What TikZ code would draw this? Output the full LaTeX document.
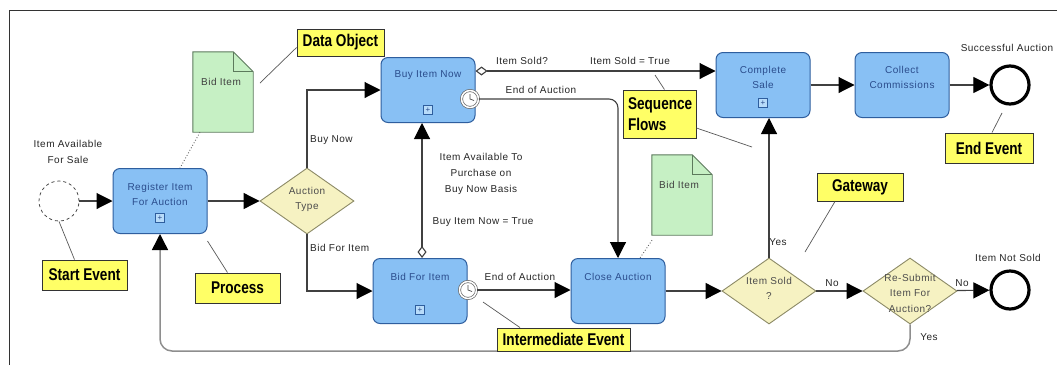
\documentclass[tikz,border=0pt]{standalone}
\usepackage{fontspec}
\setmainfont{Liberation Sans}
\newfontfamily\lblfont{Liberation Sans}[LetterSpace=5]
\newfontfamily\callfont{Liberation Sans}[FakeStretch=0.8]
\usetikzlibrary{shapes.geometric,arrows.meta,calc}

\definecolor{taskfill}{HTML}{88C0F4}
\definecolor{taskline}{HTML}{2E5E9E}
\definecolor{tasktext}{HTML}{2A4C8C}
\definecolor{markfill}{HTML}{B8DCFA}
\definecolor{gatefill}{HTML}{F6F2C2}
\definecolor{gateline}{HTML}{8C8A66}
\definecolor{docfill}{HTML}{C6F0C4}
\definecolor{docline}{HTML}{5C7A5C}
\definecolor{callfill}{HTML}{FFFF66}
\definecolor{flowline}{HTML}{404040}
\definecolor{loopline}{HTML}{8E8E8E}

% data object with folded corner, drawn around an invisible node
\newcommand\docobject[1]{%
  \draw[docline, fill=docfill, line width=0.9pt]
    (#1.north west) -- ([xshift=-20pt]#1.north east) -- ([yshift=-20pt]#1.north east)
    -- (#1.south east) -- (#1.south west) -- cycle;
  \draw[docline, line width=0.9pt]
    ([xshift=-20pt]#1.north east) -- ([xshift=-20pt,yshift=-20pt]#1.north east)
    -- ([yshift=-20pt]#1.north east);
}
% clock hands of a timer event
\newcommand\clockhands[1]{%
  \draw[black!70, line width=0.7pt] ([yshift=5pt]#1.center) -- (#1.center) -- ([xshift=4pt,yshift=-1.5pt]#1.center);
}

\tikzset{
  task/.style={draw=taskline, fill=taskfill, rounded corners=7pt, line width=1pt,
               minimum width=94pt, minimum height=65pt},
  ttext/.style={text=tasktext, font=\lblfont\fontsize{10}{15}\selectfont, align=center, inner sep=0},
  marker/.style={draw=taskline, fill=markfill, line width=0.7pt, minimum size=9pt, inner sep=0,
                 text=tasktext, font=\fontsize{8}{8}\selectfont},
  gate/.style={diamond, draw=gateline, fill=gatefill, line width=0.9pt, inner sep=0,
               minimum width=94pt, minimum height=66pt},
  gtext/.style={text=black!70, font=\lblfont\fontsize{10}{15}\selectfont, align=center, inner sep=0},
  startev/.style={circle, draw=black!70, dashed, line width=0.8pt, fill=white, minimum size=40pt, inner sep=0},
  endev/.style={circle, draw=black, line width=3.2pt, fill=white, minimum size=38pt, inner sep=0},
  timer/.style={circle, draw=black!60, double=white, double distance=1.5pt, line width=0.7pt,
                fill=white, minimum size=17pt, inner sep=0},
  docnode/.style={minimum width=60pt, minimum height=80pt, inner sep=0},
  dtext/.style={text=black!75, font=\lblfont\fontsize{10}{12}\selectfont, inner sep=0},
  lbl/.style={text=black!85, font=\lblfont\fontsize{10}{16}\selectfont, align=center, inner sep=0},
  flow/.style={draw=flowline, line width=1.1pt, -{Triangle[length=16pt,width=16pt,color=black]}},
  cflow/.style={draw=flowline, line width=1.1pt,
                {Diamond[open,length=12pt,width=9pt,color=flowline]}-{Triangle[length=16pt,width=16pt,color=black]}},
  loopflow/.style={draw=loopline, line width=1.5pt, rounded corners=12pt,
                   -{Triangle[length=16pt,width=16pt,color=black]}},
  assoc/.style={draw=black!60, line width=0.9pt, dotted},
  note/.style={draw=black!80, line width=0.9pt, fill=callfill, inner sep=0,
               font=\callfont\bfseries\fontsize{17}{21}\selectfont},
  noteline/.style={draw=black!65, line width=0.7pt},
}

\begin{document}
\begin{tikzpicture}[x=1pt, y=-1pt]
\useasboundingbox[fill=white] (0,0) rectangle (1057,365);
\draw[black!80, line width=1pt] (9,365) -- (9,10) -- (1057,10);

% activities
\node[task] (reg) at (160,201) {};
\node[task] (buy) at (428,90) {};
\node[task] (bid) at (420,291) {};
\node[task] (close) at (618,291) {};
\node[task] (complete) at (763,85) {};
\node[task] (collect) at (902,85) {};

\node[ttext] (regt) at (160,194) {Register Item\\For Auction};
\node[marker] (regm) at (160,218) {+};
\node[ttext] (buyt) at (428,75) {Buy Item Now};
\node[marker] (buym) at (428,110) {+};
\node[ttext] (bidt) at (420,277) {Bid For Item};
\node[marker] (bidm) at (420,310) {+};
\node[ttext] (closet) at (618,277) {Close Auction};
\node[ttext] (completet) at (763,77) {Complete\\Sale};
\node[marker] (completem) at (763,103) {+};
\node[ttext] (collectt) at (902,77) {Collect\\Commissions};

% gateways
\node[gate] (atype) at (307,201) {};
\node[gtext] (atypet) at (307,199) {Auction\\Type};
\node[gate] (sold) at (769,291) {};
\node[gtext] (soldt) at (769,288) {Item Sold\\?};
\node[gate] (resub) at (910,291) {};
\node[gtext, font=\lblfont\fontsize{10}{15.5}\selectfont] (resubt) at (910,293) {Re-Submit\\Item For\\Auction?};

% events
\node[startev] (start) at (59,201) {};
\node[endev] (endok) at (1010,85) {};
\node[endev] (endno) at (1010,290) {};
\node[timer] (tbuy) at (470,99) {};
\clockhands{tbuy}
\node[timer] (tbid) at (468,290) {};
\clockhands{tbid}

% data objects
\node[docnode] (doc1) at (223,92) {};
\docobject{doc1}
\node[dtext] (doc1t) at (221,82) {Bid Item};
\node[docnode] (doc2) at (682,195) {};
\docobject{doc2}
\node[dtext] (doc2t) at (679,185) {Bid Item};

% sequence flows
\draw[flow] (start) -- (reg);
\draw[flow] (reg) -- (atype);
\draw[flow] (atype.north) |- (buy.west);
\draw[flow] (atype.south) |- (bid.west);
\draw[cflow] ([xshift=2pt]bid.north) -- ([xshift=2pt]bid.north |- buy.south);
\draw[cflow] ([yshift=19pt]buy.east) -- ([yshift=19pt]buy.east -| complete.west);
\draw[flow, rounded corners=9pt] (tbuy.east) -| (close.north);
\draw[flow] (tbid.east) -- (tbid.east -| close.west);
\draw[flow] (close) -- (sold);
\draw[flow] (sold.north) -- (sold.north |- complete.south);
\draw[flow] (complete) -- (collect);
\draw[flow] (collect) -- (endok);
\draw[flow] (sold) -- (resub);
\draw[flow] (resub) -- (endno);
\draw[loopflow] (resub.south) |- (160,351) -- (reg.south);

% associations
\draw[assoc] ([xshift=-23pt]doc1.south) -- ([xshift=20pt]reg.north);
\draw[assoc] ([xshift=-30pt,yshift=-5pt]doc2.south) -- ([xshift=22pt]close.north);

% flow labels
\node[lbl] (lsale) at (68,152) {Item Available\\For Sale};
\node[lbl, anchor=west] (lbuynow) at (310,140) {Buy Now};
\node[lbl, anchor=west] (lbidfor) at (310,248) {Bid For Item};
\node[lbl] (lsoldq) at (522,61) {Item Sold?};
\node[lbl] (lsoldt) at (630,61) {Item Sold = True};
\node[lbl] (lend1) at (541,90) {End of Auction};
\node[lbl] (lavail) at (481,174) {Item Available To\\Purchase on\\Buy Now Basis};
\node[lbl] (lbuytrue) at (483,222) {Buy Item Now = True};
\node[lbl] (lend2) at (520,277) {End of Auction};
\node[lbl] (lyes1) at (778,242) {Yes};
\node[lbl] (lno1) at (832,283) {No};
\node[lbl] (lno2) at (962,283) {No};
\node[lbl] (lyes2) at (929,337) {Yes};
\node[lbl] (lnotsold) at (1008,258) {Item Not Sold};
\node[lbl] (lsuccess) at (1007,48) {Successful Auction};

% annotations
\node[note, minimum width=87pt, minimum height=27pt] (ndata) at (340.5,42.5) {Data Object};
\node[note, minimum width=85pt, minimum height=30pt] (nstart) at (84.5,275) {Start Event};
\node[note, minimum width=85pt, minimum height=30pt] (nproc) at (237.5,288) {Process};
\node[note, minimum width=133pt, minimum height=23pt] (ninter) at (563.5,339.5) {Intermediate Event};
\node[note, minimum width=73pt, minimum height=48pt, align=left, text width=63pt] (nseq) at (659.5,114) {Sequence\\Flows};
\node[note, minimum width=86pt, minimum height=28pt] (ngate) at (860,187) {Gateway};
\node[note, minimum width=88pt, minimum height=30pt] (nend) at (989,148) {End Event};

\coordinate (cdata) at (260,83);
\coordinate (cseq1) at (655,75);
\coordinate (cseq2) at (752,147);
\coordinate (cgate) at (805,252);
\coordinate (cinter) at (483,302);
\coordinate (cend) at (1002,113);
\draw[noteline] ([yshift=-5pt]ndata.west) -- (cdata);
\draw[noteline] ([xshift=-10pt]nstart.north) -- (start.south);
\draw[noteline] ([xshift=-10pt]nproc.north) -- ([yshift=-7pt]reg.south east);
\draw[noteline] ([xshift=-43.5pt]ninter.north) -- (cinter);
\draw[noteline] ([xshift=5pt]nseq.north) -- (cseq1);
\draw[noteline] ([yshift=-14pt]nseq.east) -- (cseq2);
\draw[noteline] ([xshift=-25pt]ngate.south) -- (cgate);
\draw[noteline] ([xshift=3pt]nend.north) -- (cend);
\end{tikzpicture}
\end{document}
